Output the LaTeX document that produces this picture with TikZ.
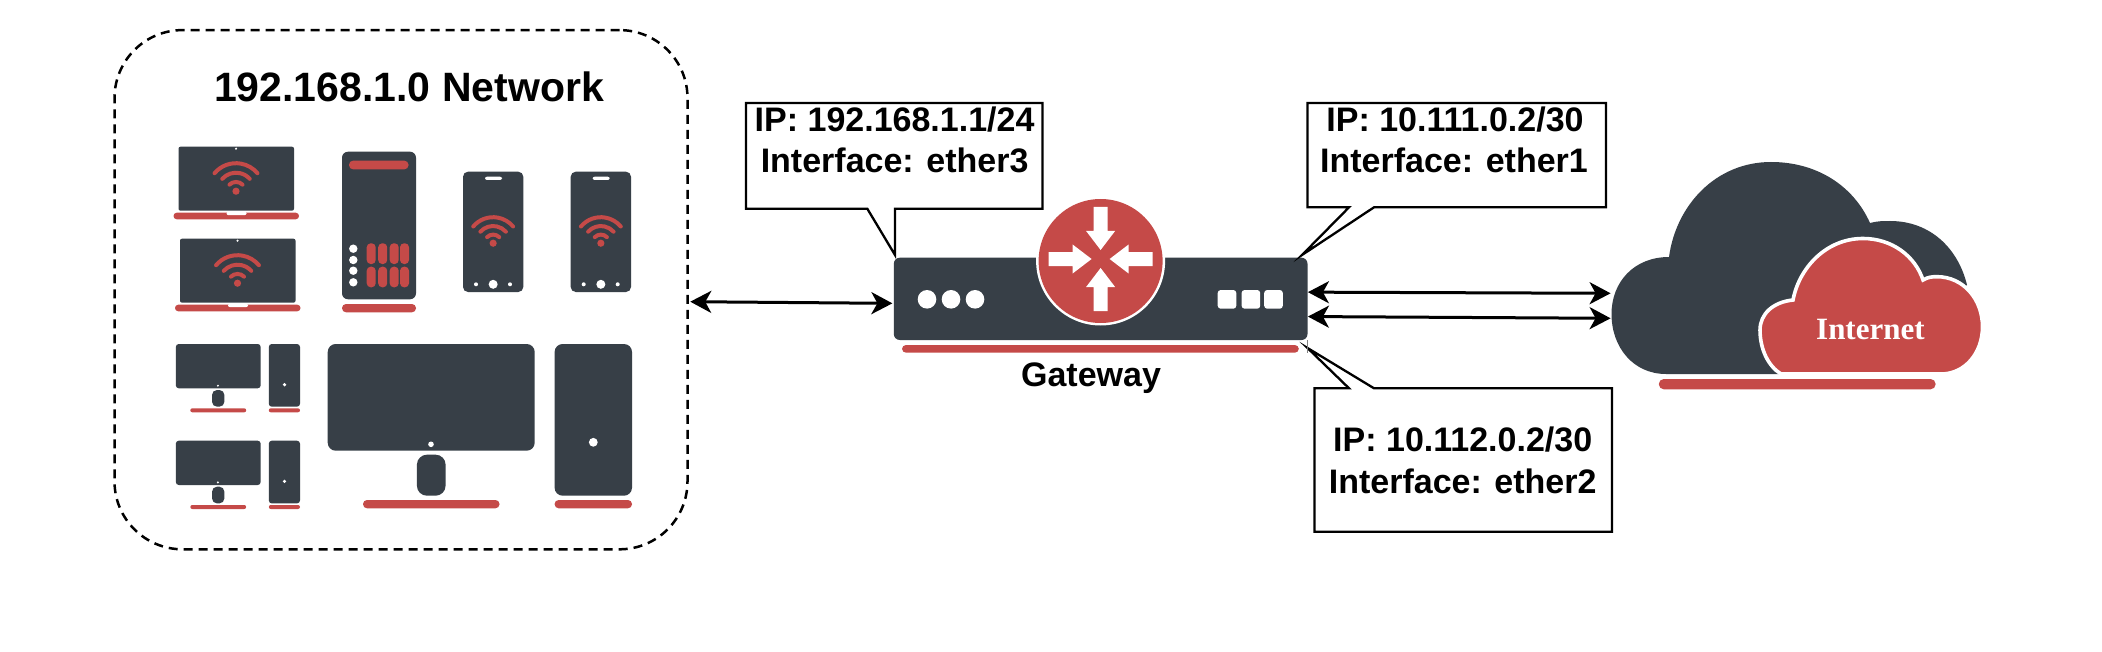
\documentclass[tikz,border=0pt]{standalone}
\usepackage{fontspec}
\setmainfont{Liberation Sans}
\newfontfamily\serifbold{Liberation Serif}
\usetikzlibrary{arrows.meta,calc}
\definecolor{darkslate}{HTML}{373F47}
\definecolor{brick}{HTML}{C54A48}
\tikzset{
  link/.style={line width=1.5pt,{Stealth[length=10.5pt,width=11pt,inset=3pt]}-{Stealth[length=10.5pt,width=11pt,inset=3pt]}},
  callout/.style={draw=black,line width=1.15pt,fill=white,line join=miter,miter limit=12},
  calloutlabel/.style={font=\bfseries\fontsize{17}{21}\selectfont,align=center,inner sep=0pt,text=black},
  wifiarc/.style={draw=brick,line width=2pt,line cap=round},
}
\newcommand{\rbox}[6]{\fill[#6,rounded corners=#5pt] (#1,#2) rectangle (#3,#4);}
\newcommand{\wifisign}[3]{%
  \foreach \wr/\wa in {#3/50,0.66*#3/48,0.33*#3/45}{
    \draw[wifiarc] (#1,#2) ++({270-\wa}:{\wr}) arc[start angle={270-\wa},end angle={270+\wa},radius={\wr}];
  }
  \fill[brick] (#1,#2) circle[radius=3.6];
}
\newcommand{\laptop}[3]{% left x of screen, top y, wifi x
  \rbox{#1}{#2}{#1+115.5}{#2+64}{1}{darkslate}
  \fill[white] (#1+57.5,#2+2) circle[radius=1.2];
  \rbox{#1-5}{#2+66}{#1+120.5}{#2+72.6}{1.6}{brick}
  \fill[white,rounded corners=1pt] (#1+48,#2+65) rectangle (#1+68,#2+68.5);
  \wifisign{#1+57.5}{#2+44.5}{28}
}
\newcommand{\phone}[2]{% left x, top y
  \rbox{#1}{#2}{#1+60.3}{#2+120.3}{2.5}{darkslate}
  \rbox{#1+22}{#2+5}{#1+39}{#2+8.3}{1}{white}
  \wifisign{#1+30.15}{#2+71.5}{26}
  \fill[white] (#1+13,#2+112.6) circle[radius=2];
  \fill[white] (#1+30.15,#2+112.6) circle[radius=4.5];
  \fill[white] (#1+47,#2+112.6) circle[radius=2];
}
\newcommand{\desktop}[1]{% top y
  \rbox{175.8}{#1}{260.7}{#1+44.3}{1.5}{darkslate}
  \fill[white] (217.9,#1+41.7) circle[radius=1.1];
  \rbox{212}{#1+46}{224.4}{#1+62.7}{2.5}{darkslate}
  \rbox{190.3}{#1+64.3}{246.2}{#1+68.3}{1}{brick}
  \rbox{268.8}{#1}{300}{#1+62.7}{1.5}{darkslate}
  \fill[white] (284.5,#1+40.7) circle[radius=1.8];
  \rbox{268.8}{#1+64.3}{300}{#1+68.3}{1}{brick}
}
\begin{document}
\begin{tikzpicture}[x=0.5pt,y=-0.5pt]
\useasboundingbox (0,0) rectangle (2102,652);
\fill[white] (0,0) rectangle (2102,652);

% network area
\node[draw=black,line width=1.25pt,dash pattern=on 4.5pt off 3pt,rounded corners=34pt,
      minimum width=286.5pt,minimum height=259.6pt,inner sep=0pt] (net) at (401,289.7) {};
\node[font=\bfseries\fontsize{20.5}{24}\selectfont,inner sep=0pt,anchor=base] (nettitle) at (409,101.5) {192.168.1.0 Network};

% devices
\laptop{178.5}{146.7}{236}
\laptop{180}{238.7}{238}
% tablet
\rbox{342}{151.7}{416}{299.3}{3}{darkslate}
\rbox{349}{160.7}{408.5}{169.3}{2}{brick}
\foreach \cy in {248.7,260,270.7,282.3}{\fill[white] (353.3,\cy) circle[radius=4.2];}
\foreach \px in {366.7,378.2,389.7,400.0}{
  \rbox{\px}{243.3}{\px+9}{264}{2}{brick}
  \rbox{\px}{266.7}{\px+9}{287.3}{2}{brick}
}
\rbox{342}{304}{416}{312.3}{2}{brick}
\phone{463}{171.7}
\phone{570.7}{171.7}
\desktop{344}
\desktop{440.7}
% large monitor
\rbox{327.7}{344}{534.7}{450.7}{4}{darkslate}
\fill[white] (431,444.3) circle[radius=2.8];
\rbox{416.9}{454.7}{445.6}{495.7}{5}{darkslate}
\rbox{363}{500}{499.5}{508.3}{2}{brick}
% large tower
\rbox{554.6}{344}{632}{495.7}{4}{darkslate}
\fill[white] (593.3,442.3) circle[radius=4.4];
\rbox{554.6}{500}{632}{508.3}{2}{brick}

% gateway
\node[fill=darkslate,rounded corners=3pt,minimum width=206.85pt,minimum height=41.15pt,inner sep=0pt] (gw) at (1100.65,298.85) {};
\rbox{902}{345}{1298.8}{352.7}{2}{brick}
\foreach \gx in {927,951,975}{\fill[white] (\gx,299.3) circle[radius=9.3];}
\foreach \gx in {1217.7,1241.6,1264.2}{\rbox{\gx}{290}{\gx+18.6}{308.7}{1.5}{white}}
\fill[white] (1100.6,261) circle[radius=64.5];
\fill[brick] (1100.6,261) circle[radius=62];
\foreach \ang in {0,90,180,270}{
  \fill[white,rotate around={\ang:(1100.6,259)}] (1093.6,207) -- (1107.6,207) -- (1107.6,231) -- (1115.1,231) -- (1100.6,250) -- (1086.1,231) -- (1093.6,231) -- cycle;
}
\node[font=\bfseries\fontsize{17}{21}\selectfont,inner sep=0pt,anchor=base] (gwlabel) at (1091,386.5) {Gateway};

% callouts
\coordinate (tipa) at (895,255);
\coordinate (tipb) at (1302,255);
\coordinate (tipc) at (1307.5,348);
\draw[callout] (746,103) -- (1042.5,103) -- (1042.5,208.7) -- (895,208.7) -- (tipa) -- (867.3,208.7) -- (746,208.7) -- cycle;
\node[calloutlabel,anchor=base] (labela) at (894.6,131.7) {IP: 192.168.1.1/24};
\node[calloutlabel,anchor=base] (labelaa) at (894.6,173) {Interface: ether3};
\draw[callout] (1307.5,103) -- (1606,103) -- (1606,207.3) -- (1374,207.3) -- (tipb) -- (1349,207.3) -- (1307.5,207.3) -- cycle;
\node[calloutlabel,anchor=base] (labelb) at (1455,131.7) {IP: 10.111.0.2/30};
\node[calloutlabel,anchor=base] (labelbb) at (1454,173) {Interface: ether1};
\draw[callout] (1314.4,388.3) -- (1349,388.3) -- (tipc) -- (1374,388.3) -- (1612,388.3) -- (1612,531.7) -- (1314.4,531.7) -- cycle;
\node[calloutlabel,anchor=base] (labelc) at (1462.7,451.7) {IP: 10.112.0.2/30};
\node[calloutlabel,anchor=base] (labelcc) at (1462.7,493) {Interface: ether2};
\draw[gray,line width=0.5pt] (1307.5,340) -- (1307.5,353);

% cloud
\fill[darkslate] (1666,374) .. controls (1633,374) and (1611.5,347) .. (1611.5,314)
  .. controls (1611.5,282) and (1634,257) .. (1669,257)
  .. controls (1676,205) and (1716,162) .. (1771,162)
  .. controls (1816,162) and (1853,185) .. (1870,223)
  .. controls (1877,221) and (1884,221) .. (1890,221)
  .. controls (1930,221) and (1958,248) .. (1967,285)
  -- (1900,340) -- (1780,374) -- cycle;
\filldraw[fill=brick,draw=white,line width=1.8pt] (1781,374)
  .. controls (1768,366) and (1760,349) .. (1760,330)
  .. controls (1760,314) and (1773,302) .. (1793,300)
  .. controls (1799,268) and (1826,238.5) .. (1863,238.5)
  .. controls (1892,238.5) and (1915,256) .. (1923,280)
  .. controls (1928,277) and (1932,276.7) .. (1937,276.7)
  .. controls (1963,276.7) and (1982.5,299) .. (1982.5,326.7)
  .. controls (1982.5,353) and (1965,374) .. (1941,374) -- cycle;
\rbox{1658.8}{379}{1935.6}{389.3}{2.5}{brick}
\node[font=\serifbold\bfseries\fontsize{15.5}{18}\selectfont,text=white,inner sep=0pt,anchor=base] (inet) at (1870.4,339.5) {Internet};
\coordinate (cloudA) at (1610.6,293.3);
\coordinate (cloudB) at (1610.6,318.3);

% connectors
\draw[link] ($(net.east)+(1.5,12)$) -- ($(gw.west)+(-1,4.5)$);
\draw[link] ($(gw.east)+(0,-6.7)$) -- (cloudA);
\draw[link] ($(gw.east)+(0,17.7)$) -- (cloudB);
\end{tikzpicture}
\end{document}
